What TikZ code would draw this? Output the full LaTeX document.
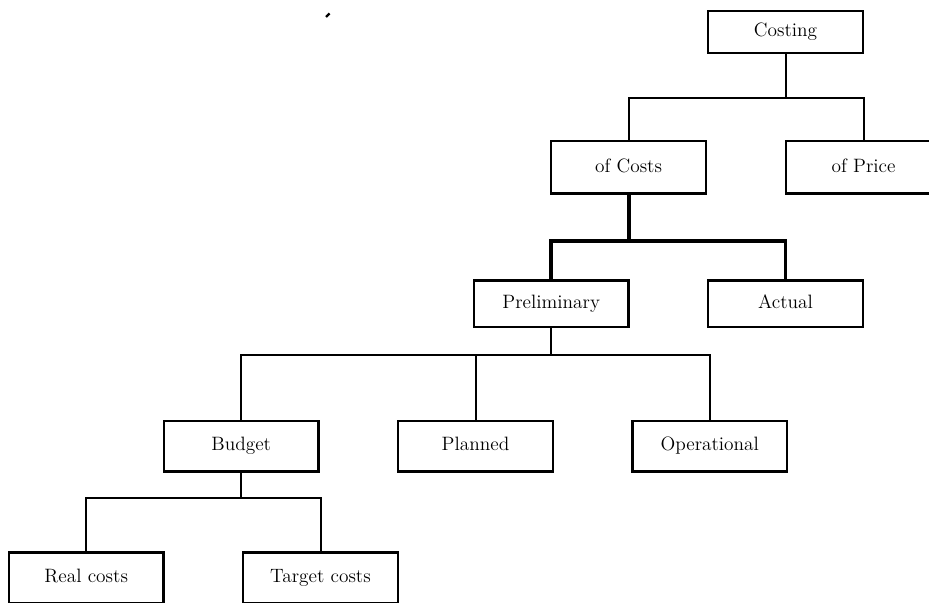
\documentclass[tikz,border=0pt]{standalone}
\usetikzlibrary{positioning}

\begin{document}
\begin{tikzpicture}[
    x=0.75pt, y=-0.75pt,
    box/.style={draw, rectangle, line width=1.7pt, minimum width=116pt, minimum height=38pt, inner sep=0pt, text height=2.1ex, text depth=0.45ex, align=center, font=\fontsize{14.5}{16}\selectfont},
    link/.style={line width=1.5pt},
    thicklink/.style={line width=2.9pt}
]
    \useasboundingbox (0,0) rectangle (929,603);

    % Top level
    \node[box, minimum height=31pt] (costing) at (785.5,32) {Costing};
    \node[box, minimum height=39.5pt, below left=64.5pt and 0pt of costing] (ofcosts) {of Costs};
    \node[box, minimum height=39.5pt, right=58.5pt of ofcosts] (ofprice) {of Price};

    % Costs
    \node[box, minimum height=35pt, below=63.5pt of ofcosts, xshift=-58pt] (prelim) {Preliminary};
    \node[box, minimum height=35pt, right=58pt of prelim] (actual) {Actual};

    % Preliminary
    \node[box, below=68.5pt of prelim, xshift=-232.5pt] (budget) {Budget};
    \node[box, right=58pt of budget] (planned) {Planned};
    \node[box, right=58pt of planned] (operational) {Operational};

    % Budget
    \node[box, below=59pt of budget, xshift=-116.25pt] (realcosts) {Real costs};
    \node[box, right=58pt of realcosts] (targetcosts) {Target costs};

    % Connectors
    \draw[link] (costing.south) -- ++(0,44) coordinate (fork1);
    \draw[link] (fork1) -| (ofcosts.north);
    \draw[link] (fork1) -| (ofprice.north);

    \draw[thicklink] (ofcosts.south) -- ++(0,46) coordinate (fork2);
    \draw[thicklink] (fork2) -| (prelim.north);
    \draw[thicklink] (fork2) -| (actual.north);

    \draw[link] (prelim.south) -- ++(0,27) coordinate (fork3);
    \draw[link] (fork3) -| (budget.north);
    \draw[link] (fork3) -| (planned.north);
    \draw[link] (fork3) -| (operational.north);

    \draw[link] (budget.south) -- ++(0,25) coordinate (fork4);
    \draw[link] (fork4) -| (realcosts.north);
    \draw[link] (fork4) -| (targetcosts.north);

    % stray mark
    \draw[line width=1.6pt] (326,17) -- (329.5,13.5);
\end{tikzpicture}
\end{document}
